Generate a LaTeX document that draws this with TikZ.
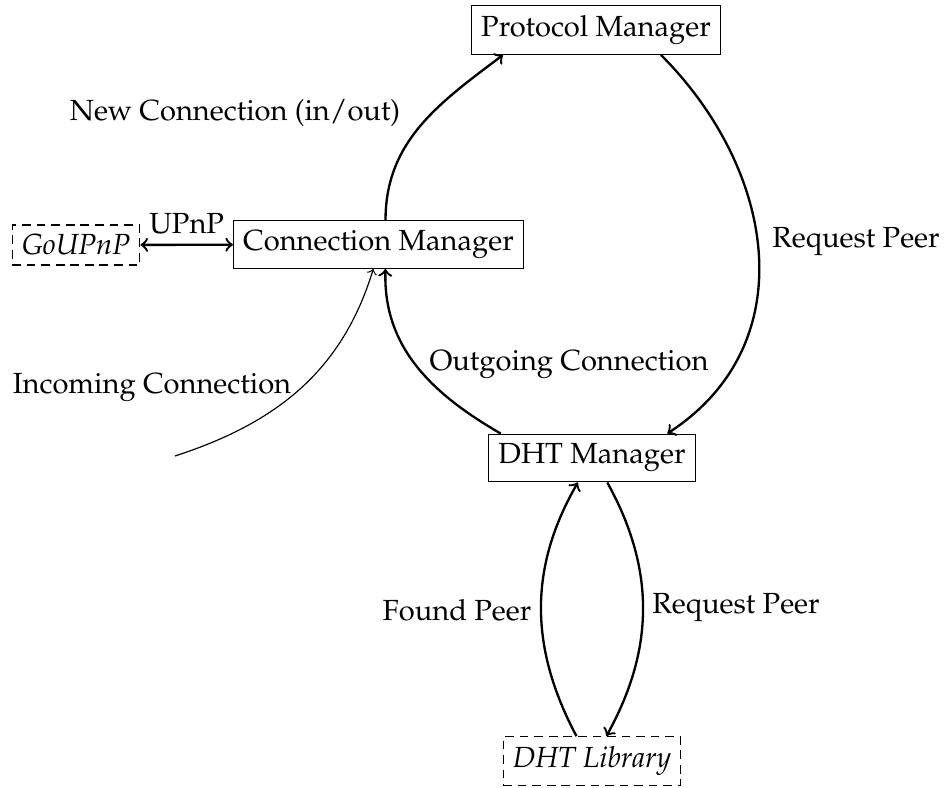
\documentclass[tikz,border=0pt]{standalone}
\usepackage[T1]{fontenc}
\usepackage{mathpazo}
\begin{document}
\begin{tikzpicture}[x=0.3436pt,y=0.3436pt,
  box/.style={draw,thin,inner sep=0.333em},
  ext/.style={draw,thin,dash pattern=on 3pt off 2pt,inner sep=0.333em,font=\itshape},
  link/.style={->,thick},
  lbl/.style={inner sep=0pt}]
\useasboundingbox (0,0) rectangle (947,-787);
\node[box] (pm) at (596,-30) {Protocol Manager};
\node[box] (cm) at (378.5,-244.5) {Connection Manager};
\node[ext] (gu) at (76,-245) {GoUPnP};
\node[box] (dht) at (592,-458) {DHT Manager};
\node[ext] (lib) at (592,-761) {DHT Library};
\coordinate (inc) at (175,-456);

\draw[link] (cm.74) to[out=90,in=217] (pm.195);
\draw[link] (pm.-21) to[out=-45,in=33,looseness=1.1] (dht.18);
\draw[link] (dht.165) to[out=150,in=-92] (cm.-74);
\draw[->,thin] (inc) to[out=18,in=253] (cm.-102);
\draw[<->,thick] (gu) -- node[above] (upnp) {UPnP} (cm);
\draw[link] (lib.122) to[out=118,in=240] (dht.-120);
\draw[link] (dht.-58) to[out=-61,in=61] (lib.60);

\node[lbl] (l1) at (235,-113) {New Connection (in/out)};
\node[lbl] (l2) at (856,-242) {Request Peer};
\node[lbl] (l3) at (569,-365) {Outgoing Connection};
\node[lbl] (l4) at (152,-388) {Incoming Connection};
\node[lbl] (l5) at (457,-610) {Found Peer};
\node[lbl] (l6) at (736,-608) {Request Peer};
\end{tikzpicture}
\end{document}
